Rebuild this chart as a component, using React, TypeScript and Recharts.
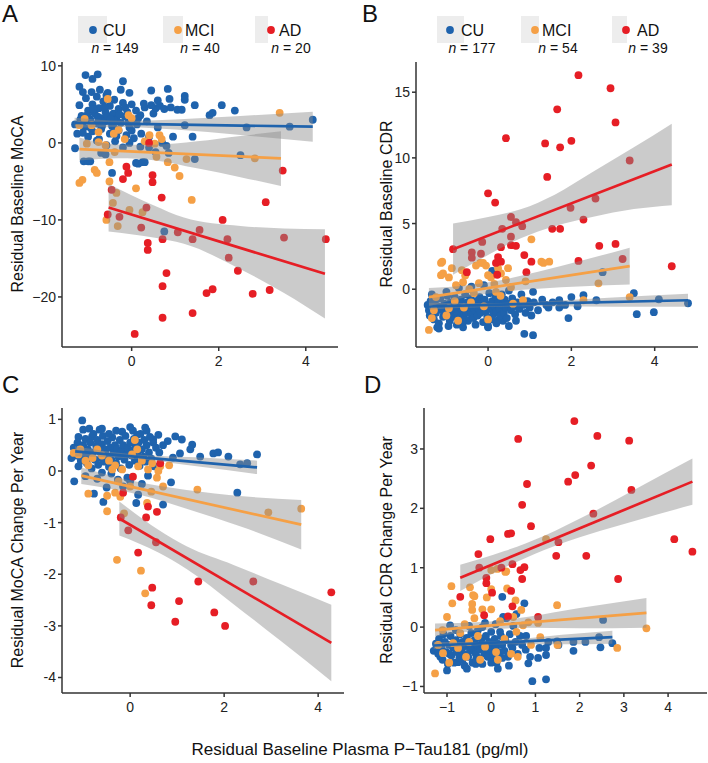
import React from "react";
import { ComposedChart, Scatter, Area, Line, XAxis, YAxis } from "recharts";

/* ─── colours ─── */
const BLUE = "#1f63ad";
const ORANGE = "#f5a046";
const RED = "#e61e25";
const FONT = "'Liberation Sans', Arial, Helvetica, sans-serif";

/* ─── Panel A: baseline MoCA ─── */
const aCU = [
  [-1.06, 8.8], [-0.78, 8.9], [-0.9, 8.3], [-1.2, 7.3], [-0.2, 8.0], [-0.73, 6.9], [-1.12, 6.6], [-0.92, 6.6],
  [-0.58, 6.2], [-0.05, 6.5], [0.45, 6.8], [0.83, 7.0], [1.22, 6.1], [1.22, 5.6], [0.87, 5.7], [1.45, 4.9],
  [2.07, 4.9], [2.37, 4.2], [1.79, 3.6], [1.86, 3.9], [1.22, 2.3], [0.95, 0.8], [1.4, 0.8], [0.7, 0],
  [2.64, 2.0], [3.63, 2.1], [4.16, 3.0], [-1.3, 2.4], [-1.25, 1.2], [-1.2, 4.9], [-1.15, 3.5], [-1.1, 2.0],
  [-1.05, 5.8], [-1.0, 4.2], [-1.0, 0.8], [-0.95, 3.0], [-0.9, 5.0], [-0.9, 1.5], [-0.85, 3.8], [-0.8, 2.5],
  [-0.8, 6.0], [-0.75, 4.5], [-0.75, 0.5], [-0.7, 3.2], [-0.7, 1.8], [-0.65, 5.4], [-0.62, 2.8], [-0.6, 4.0],
  [-0.58, -0.3], [-0.55, 3.5], [-0.5, 1.2], [-0.5, 4.8], [-0.45, 2.2], [-0.42, 3.8], [-0.4, 5.6], [-0.38, 0.2],
  [-0.35, 3.0], [-0.3, 1.6], [-0.3, 4.4], [-0.25, 2.6], [-0.2, 5.2], [-0.2, -0.6], [-0.15, 3.4], [-0.12, 1.0],
  [-0.1, 4.0], [-0.05, 2.0], [0.0, 5.0], [0.0, 3.0], [0.05, 0.6], [0.1, 4.2], [0.12, 2.4], [0.2, 3.6],
  [0.22, 1.2], [0.3, 4.6], [0.35, 2.8], [0.4, 0.8], [0.5, 3.8], [0.55, 4.5], [0.6, 2.0], [0.65, 4.8],
  [0.75, 4.4], [0.8, -0.4], [0.9, 4.6], [1.05, 4.3], [1.15, 4.3], [-1.3, -0.7], [-1.1, -2.4], [-1.0, -2.4],
  [-0.95, -2.4], [-0.7, -1.3], [-0.6, -1.5], [-0.45, -3.9], [0.1, -2.6], [0.15, -2.7], [0.25, -2.5], [0.3, -2.5],
  [0.2, -0.5], [0.55, -1.2], [0.85, -1.3], [1.45, -2.1], [2.5, -1.6], [0.75, -11.5], [-0.35, 0.9], [-0.8, 0.3],
  [-1.18, 3.0], [-0.55, 6.5], [-0.25, 6.9], [0.45, 4.9], [0.6, 5.5], [-0.05, 0.0], [0.4, -0.6], [-1.02, 3.6],
  [-0.88, 4.4], [-0.68, 2.2], [-0.48, 3.1], [-0.28, 3.7], [-0.08, 2.6], [0.15, 3.2], [-0.62, 4.6], [-0.4, 1.9],
  [-0.15, 4.6], [-0.95, 2.0], [-1.12, 1.3], [0.0, 1.6], [0.28, 5.1], [-0.78, 3.4],
];
const aMCI = [
  [-0.55, 5.7], [3.4, 3.9], [-1.08, 3.1], [-1.2, 2.3], [-0.92, 2.3], [-0.76, 1.4], [-0.41, 1.2], [-0.3, 1.7],
  [-0.16, 0.5], [-0.07, 3.6], [0.0, 3.2], [0.41, 1.0], [0.64, 1.0], [0.69, 0.5], [0.3, 0.2], [0.53, -0.1],
  [0.57, -1.8], [0.83, -2.5], [0.99, -3.2], [1.1, -4.3], [1.26, -2.1], [-0.85, -3.5], [-0.51, -2.5], [-0.39, -1.2],
  [-0.76, 0.1], [-1.03, -0.1], [-0.6, -0.3], [-1.2, -5.2], [-1.13, -4.8], [-0.8, -3.9], [-0.51, -5.0], [0.1, -5.9],
  [-0.43, -7.8], [-0.35, -6.5], [-0.05, -8.7], [0.25, -9.0], [-0.58, -10.0], [-0.32, -10.8], [1.38, -7.4], [2.83, -2.0],
];
const aAD = [
  [0.4, 0.0], [-0.12, -3.1], [-0.08, -3.9], [-0.2, -4.7], [0.48, -4.2], [0.48, -5.1], [0.69, -7.1], [-0.46, -6.1],
  [-0.55, -9.3], [-0.28, -9.6], [0.22, -11.0], [0.34, -8.4], [0.37, -13.0], [0.37, -13.9], [0.71, -12.5], [0.8, -16.9],
  [0.71, -18.6], [0.71, -22.7], [0.07, -24.8], [1.4, -22.1], [1.06, -11.6], [1.4, -12.5], [1.56, -11.3], [1.72, -19.5],
  [1.86, -19.0], [2.09, -10.0], [2.2, -12.5], [2.23, -14.9], [2.44, -16.6], [2.78, -19.6], [3.08, -7.7], [3.17, -19.1],
  [3.47, -3.6], [3.5, -12.3], [4.46, -12.5],
];
const aCUBand = [[-1.31, 1.95, 3.25], [-0.2, 2.07, 2.87], [1.0, 1.73, 3.05], [2.5, 1.01, 3.49], [4.16, 0.15, 4.05]];
const aMCIBand = [[-1.2, -2.3, 0.7], [-0.3, -2.0, -0.2], [0.5, -2.24, -0.24], [1.5, -3.3, 0.2], [2.5, -4.45, 0.9], [3.43, -5.6, 1.5]];
const aADBand = [[-0.53, -11.5, -5.3], [0.5, -12.3, -8.1], [1.2, -13.1, -9.7], [2.5, -16.4, -10.8], [3.5, -19.5, -11.1], [4.44, -22.8, -11.2]];
const aCULine = [[-1.31, 2.6], [4.16, 2.1]];
const aMCILine = [[-1.2, -0.8], [3.43, -2.0]];
const aADLine = [[-0.53, -8.4], [4.44, -17.0]];

/* ─── Panel B: baseline CDR ─── */
const bCU = [
  [0.1, 1.4], [0.12, 1.3], [1.08, -0.2], [1.93, -2.2], [0.87, -3.4], [1.08, -3.5], [2.29, -0.46], [2.6, -0.84],
  [1.71, -0.84], [1.71, -1.4], [1.45, -1.4], [-1.18, -3.0], [-0.6, -2.9], [0.0, -2.9], [0.36, -2.4], [0.67, -2.4],
  [1.04, -2.0], [2.75, 1.3], [3.57, -1.9], [3.98, -1.75], [4.1, -0.77], [4.8, -1.07], [3.5, -0.3], [0.0, -2.8],
  [-1.45, -1.2], [-1.42, -1.6], [-1.4, -2.0], [-1.38, -0.9], [-1.35, -1.4], [-1.3, -2.3], [-1.28, -1.0], [-1.25, -1.8],
  [-1.2, -1.3], [-1.18, -2.6], [-1.15, -0.7], [-1.1, -1.6], [-1.08, -2.1], [-1.05, -1.1], [-1.0, -1.9], [-0.98, -0.5],
  [-0.95, -1.4], [-0.92, -2.4], [-0.9, -1.0], [-0.88, -1.7], [-0.85, -2.1], [-0.82, -1.2], [-0.8, -0.6], [-0.78, -1.5],
  [-0.75, -2.7], [-0.72, -1.9], [-0.7, -1.1], [-0.68, -2.2], [-0.65, -0.8], [-0.62, -1.6], [-0.6, -1.3], [-0.58, -2.0],
  [-0.55, -0.4], [-0.52, -1.8], [-0.5, -1.0], [-0.48, -2.4], [-0.45, -1.4], [-0.42, -0.7], [-0.4, -1.9], [-0.38, -1.2],
  [-0.35, -2.2], [-0.32, -1.6], [-0.3, -0.9], [-0.28, -1.3], [-0.25, -2.0], [-0.22, -1.5], [-0.2, -0.6], [-0.18, -1.8],
  [-0.15, -1.1], [-0.12, -2.5], [-0.1, -1.4], [-0.08, -0.8], [-0.05, -1.7], [-0.02, -2.1], [0.0, -1.2], [0.03, -0.3],
  [0.05, -1.5], [0.08, -2.3], [0.1, -0.9], [0.13, -1.9], [0.15, -1.3], [0.18, -0.6], [0.2, -1.7], [0.23, -2.4],
  [0.25, -1.0], [0.28, -1.5], [0.3, -2.0], [0.33, -0.4], [0.35, -1.2], [0.38, -1.8], [0.4, -0.8], [0.43, -1.4],
  [0.45, -2.2], [0.48, -1.1], [0.5, -0.1], [0.55, -1.6], [0.58, -0.7], [0.62, -1.3], [0.65, -1.9], [0.7, -1.0],
  [0.75, -1.5], [0.8, -0.4], [0.85, -1.2], [0.9, -1.8], [0.95, -0.9], [1.0, -1.4], [1.1, -1.0], [1.2, -1.6],
  [1.3, -0.8], [1.4, -1.2], [1.55, -1.0], [1.85, -1.2], [2.0, -0.6], [2.15, -1.3], [-1.35, -0.4], [-1.22, -2.9],
  [-0.95, -2.8], [-0.6, -2.5], [-0.3, -2.7], [0.2, -2.6], [0.5, -2.8], [-1.0, -0.2], [-0.7, 0.1], [-0.4, 0.2],
  [-0.1, 0.3],
];
const bMCI = [
  [1.04, 3.8], [-1.1, 2.1], [-1.42, -3.1], [-1.08, 1.2], [-0.87, 1.6], [-0.63, 1.45], [-0.55, 1.05], [-0.19, 2.0],
  [0.48, 1.6], [1.28, 2.1], [1.47, 2.1], [2.65, 0.45], [3.4, -0.6], [-1.13, 2.0], [-1.13, 1.07], [-0.94, 0.9],
  [-0.77, 0.3], [-0.6, 0.53], [-0.53, 1.2], [-0.29, 1.8], [-0.12, 2.0], [-0.05, 1.8], [-0.22, 0.46], [0.0, 1.07],
  [0.07, 0.9], [0.24, 1.6], [0.31, 1.2], [0.43, 0.7], [0.55, 0.15], [0.84, -0.84], [-1.25, -0.6], [-1.3, -1.6],
  [-0.72, -2.4], [-0.94, -1.45], [-0.58, -1.4], [-0.41, -1.0], [-0.34, -0.3], [0.19, -0.2], [1.33, 2.0], [2.29, -0.84],
  [-0.1, -1.3], [0.3, -0.5], [-1.0, -2.0], [0.6, -1.1], [-0.45, 0.0], [0.9, 0.6], [-0.8, -0.9], [0.0, -2.3],
  [-1.35, -2.2], [0.15, 0.4],
];
const bAD = [
  [2.17, 16.3], [2.94, 15.3], [1.66, 13.7], [3.06, 12.7], [0.43, 11.5], [1.37, 11.1], [1.73, 10.8], [2.0, 11.3],
  [3.4, 9.8], [1.42, 8.55], [0.0, 7.3], [0.17, 6.6], [2.58, 6.9], [1.98, 6.2], [2.29, 5.3], [0.55, 5.5],
  [0.67, 5.1], [0.82, 4.8], [0.34, 4.6], [0.55, 4.0], [1.54, 4.6], [1.73, 4.6], [0.55, 3.35], [0.67, 3.3],
  [0.31, 3.2], [-0.14, 3.6], [-0.39, 2.8], [-0.39, 2.4], [-0.17, 2.7], [-0.84, 3.05], [0.24, 2.45], [0.31, 2.1],
  [0.19, 2.0], [0.87, 2.6], [1.04, 2.1], [0.92, 1.3], [0.22, 1.1], [-0.51, 1.3], [2.17, 2.15], [2.67, 3.3],
  [3.06, 3.45], [3.23, 2.3], [4.41, 1.75],
];
const bCUBand = [[-1.42, -1.55, -1.05], [0.0, -1.35, -1.05], [1.5, -1.29, -0.89], [3.0, -1.33, -0.63], [4.8, -1.34, -0.34]];
const bMCIBand = [[-1.42, -1.3, 0.1], [-0.5, -0.6, 0.3], [0.3, -0.21, 0.69], [1.2, 0.03, 1.33], [2.3, 0.22, 2.22], [3.4, 0.36, 3.16]];
const bADBand = [[-0.84, 1.1, 5.0], [0.0, 2.6, 5.5], [0.8, 3.9, 6.1], [1.6, 4.8, 7.2], [2.5, 5.5, 8.9], [3.5, 6.1, 10.8], [4.41, 6.4, 12.6]];
const bCULine = [[-1.42, -1.3], [4.8, -0.84]];
const bMCILine = [[-1.42, -0.6], [3.4, 1.76]];
const bADLine = [[-0.84, 3.05], [4.41, 9.5]];

/* ─── Panel C: MoCA change per year ─── */
const cCU = [
  [-1.02, 0.98], [-1.0, 0.8], [-0.87, 0.82], [-0.6, 0.82], [-0.17, 0.76], [0.06, 0.78], [0.32, 0.84], [0.15, 0.7],
  [-0.81, 0.67], [-1.1, 0.66], [0.49, 0.61], [0.49, 0.55], [0.96, 0.67], [1.1, 0.61], [1.32, 0.51], [1.28, 0.42],
  [0.62, 0.36], [0.91, 0.26], [1.06, 0.34], [1.49, 0.28], [1.77, 0.34], [1.87, 0.36], [2.09, 0.28], [2.7, 0.32],
  [2.34, 0.13], [2.49, 0.15], [2.28, -0.42], [-1.19, -0.2], [-1.1, 0.09], [-0.77, -0.44], [-0.57, -0.6], [0.13, -0.62],
  [0.17, -0.46], [0.7, -0.65], [0.87, -0.22], [0.38, -0.09], [0.51, 0.09], [-0.06, -0.13], [0.0, -0.2], [-0.26, -0.17],
  [-0.6, -0.03], [-1.2, 0.45], [-1.15, 0.3], [-1.12, 0.55], [-1.08, 0.38], [-1.05, 0.2], [-1.0, 0.5], [-0.98, 0.32],
  [-0.95, 0.62], [-0.92, 0.15], [-0.9, 0.42], [-0.88, 0.28], [-0.85, 0.55], [-0.82, 0.05], [-0.8, 0.36], [-0.78, 0.72],
  [-0.75, 0.22], [-0.72, 0.48], [-0.7, 0.6], [-0.68, 0.12], [-0.65, 0.38], [-0.62, 0.25], [-0.6, 0.52], [-0.58, 0.68],
  [-0.55, 0.18], [-0.52, 0.42], [-0.5, 0.3], [-0.48, 0.58], [-0.45, 0.08], [-0.42, 0.45], [-0.4, 0.22], [-0.38, 0.65],
  [-0.35, 0.35], [-0.32, 0.5], [-0.3, 0.15], [-0.28, 0.42], [-0.25, 0.28], [-0.22, 0.6], [-0.2, 0.05], [-0.18, 0.38],
  [-0.15, 0.5], [-0.12, 0.22], [-0.1, 0.68], [-0.08, 0.32], [-0.05, 0.45], [-0.02, 0.12], [0.0, 0.55], [0.03, 0.3],
  [0.05, 0.4], [0.08, 0.62], [0.1, 0.2], [0.12, 0.48], [0.15, 0.35], [0.18, 0.55], [0.2, 0.1], [0.22, 0.72],
  [0.25, 0.42], [0.28, 0.28], [0.3, 0.6], [0.33, 0.18], [0.35, 0.5], [0.4, 0.36], [0.42, 0.66], [0.45, 0.24],
  [0.55, 0.45], [0.6, 0.7], [0.7, 0.5], [0.8, 0.58], [-0.95, -0.1], [-0.7, -0.15], [-0.4, -0.05], [-0.15, -0.3],
  [0.25, -0.25], [-0.5, -0.32], [-1.25, 0.25], [-0.65, 0.8], [-0.3, 0.78], [0.0, 0.85], [0.35, 0.78], [-0.45, 0.72],
];
const cMCI = [
  [-0.89, 0.11], [-0.7, 0.42], [-0.32, 0.11], [-0.17, 0.03], [0.04, 0.32], [0.15, 0.42], [0.17, 0.09], [0.47, 0.15],
  [0.64, 0.09], [0.6, 0.0], [0.57, -0.13], [0.83, 0.11], [-0.38, 0.03], [0.38, 0.03], [-0.89, -0.44], [-0.49, -0.48],
  [-0.32, -0.42], [-0.21, -0.5], [0.36, -0.62], [1.43, -0.36], [-1.06, 0.42], [-1.1, 0.32], [-0.49, -0.78], [-0.28, -1.72],
  [0.23, -1.93], [0.32, -2.37], [2.94, -0.8], [3.64, -0.73], [-0.13, -0.82], [-0.6, 0.3], [0.0, -0.3], [-0.8, 0.25],
  [0.25, 0.2], [-0.45, 0.2], [0.7, -0.3], [-1.2, 0.35], [0.1, 0.6], [-0.25, -0.2], [0.45, -0.4], [-0.95, 0.2],
];
const cAD = [
  [0.64, 0.15], [0.06, -0.11], [-0.15, -0.42], [0.38, -0.69], [0.57, -0.79], [0.34, -0.9], [-0.04, -1.15], [0.17, -1.58],
  [0.55, -1.38], [0.47, -2.26], [0.45, -2.6], [1.04, -2.52], [0.96, -2.92], [1.45, -2.14], [1.79, -2.74], [2.02, -3.0],
  [2.62, -2.14], [4.28, -2.35], [-0.2, -0.9],
];
const cCUBand = [[-1.17, 0.28, 0.48], [-0.3, 0.26, 0.36], [0.5, 0.2, 0.3], [1.5, 0.08, 0.26], [2.7, -0.06, 0.2]];
const cMCIBand = [[-1.04, -0.25, 0.07], [0.2, -0.46, -0.22], [1.2, -0.73, -0.37], [2.4, -1.09, -0.49], [3.64, -1.52, -0.56]];
const cADBand = [[-0.23, -1.25, -0.59], [0.6, -1.58, -1.14], [1.2, -1.9, -1.46], [2.2, -2.58, -1.82], [3.2, -3.29, -2.19], [4.28, -4.07, -2.59]];
const cCULine = [[-1.17, 0.38], [2.7, 0.07]];
const cMCILine = [[-1.04, -0.09], [3.64, -1.04]];
const cADLine = [[-0.23, -0.92], [4.28, -3.33]];

/* ─── Panel D: CDR change per year ─── */
const dCU = [
  [0.25, 0.51], [0.75, 0.4], [0.57, 0.22], [0.34, 0.15], [-0.93, 0.03], [0.79, -0.15], [0.93, -0.91], [1.24, -0.88],
  [1.09, -0.35], [1.24, -0.35], [1.24, -0.47], [1.06, -0.52], [0.88, -0.5], [0.84, -0.61], [1.86, -0.4], [2.13, -0.25],
  [1.86, -0.25], [2.47, -0.34], [2.44, -0.17], [2.74, -0.27], [2.53, 0.12], [1.49, -0.24], [1.29, -0.25], [0.5, 0.02],
  [0.27, 0.17], [-0.14, 0.07], [0.2, -0.08], [1.52, -0.3], [0.45, -0.3], [0.25, -0.52], [0.05, -0.56], [-0.34, -0.54],
  [-0.75, -0.59], [-1.0, -0.73], [-1.15, -0.5], [-1.24, -0.35], [-1.3, -0.4], [-1.25, -0.28], [-1.2, -0.45], [-1.18, -0.2],
  [-1.12, -0.36], [-1.1, -0.55], [-1.05, -0.25], [-1.02, -0.42], [-0.98, -0.62], [-0.95, -0.3], [-0.92, -0.15], [-0.9, -0.48],
  [-0.86, -0.35], [-0.84, -0.6], [-0.8, -0.22], [-0.78, -0.42], [-0.75, -0.3], [-0.72, -0.52], [-0.7, -0.12], [-0.68, -0.38],
  [-0.65, -0.25], [-0.62, -0.45], [-0.6, -0.65], [-0.58, -0.32], [-0.55, -0.18], [-0.52, -0.5], [-0.5, -0.28], [-0.48, -0.4],
  [-0.45, -0.1], [-0.42, -0.6], [-0.4, -0.35], [-0.38, -0.22], [-0.35, -0.45], [-0.32, -0.3], [-0.3, -0.05], [-0.28, -0.52],
  [-0.25, -0.38], [-0.22, -0.2], [-0.2, -0.62], [-0.18, -0.3], [-0.15, -0.45], [-0.12, -0.15], [-0.1, -0.36], [-0.08, -0.5],
  [-0.05, -0.25], [-0.02, -0.4], [0.0, -0.08], [0.02, -0.3], [0.05, -0.45], [0.08, -0.2], [0.1, -0.35], [0.12, -0.6],
  [0.15, -0.28], [0.18, -0.42], [0.22, -0.15], [0.25, -0.3], [0.3, -0.4], [0.32, -0.22], [0.38, -0.5], [0.42, -0.12],
  [0.48, -0.35], [0.55, -0.25], [0.6, -0.45], [0.65, -0.15], [0.7, -0.3], [0.78, -0.38], [-0.65, -0.55], [-0.95, -0.45],
  [-0.35, -0.62], [0.0, -0.6], [-1.08, -0.12], [-0.5, 0.02], [-0.2, 0.0], [0.1, 0.05], [-0.8, -0.05], [0.4, -0.65],
  [0.15, -0.7], [-0.55, -0.7],
];
const dMCI = [
  [-0.9, 0.69], [-0.88, 0.4], [-0.48, 0.67], [-0.38, 0.52], [-0.43, 0.39], [-0.43, 0.29], [-0.38, 0.15], [-1.0, 0.17],
  [0.0, 0.96], [0.14, 0.98], [0.34, 0.94], [0.0, 0.64], [0.36, 0.65], [0.68, 0.29], [0.5, 0.17], [0.84, 0.08],
  [0.57, -0.08], [1.24, 1.48], [1.49, 0.37], [1.11, -0.17], [2.85, -0.35], [3.51, -0.02], [-1.27, -0.78], [-1.09, -0.44],
  [-0.86, -0.27], [-0.57, -0.5], [-0.14, -0.33], [0.11, -0.42], [-0.41, 0.54], [0.72, 0.03], [1.06, 0.07], [0.32, 0.93],
  [-0.7, -0.1], [-0.25, -0.55], [0.3, -0.2], [-1.1, -0.05], [0.6, -0.5], [-0.6, 0.05], [-0.2, 0.3], [0.2, 0.1],
  [-0.95, -0.6], [0.45, -0.45], [-0.3, -0.15], [0.0, 0.3], [-0.75, -0.35], [0.9, -0.3], [-0.5, -0.25], [0.15, -0.55],
  [-1.2, -0.3], [0.55, 0.45], [1.5, -0.3], [-0.1, 0.5],
];
const dAD = [
  [1.88, 3.47], [0.61, 3.17], [2.4, 3.22], [3.12, 3.14], [2.26, 2.72], [1.9, 2.56], [1.74, 2.45], [0.81, 2.41],
  [3.17, 2.31], [0.7, 2.06], [2.31, 1.91], [0.9, 1.7], [-0.02, 1.48], [0.38, 1.57], [0.45, 1.58], [1.47, 1.2],
  [2.15, 1.2], [1.52, 1.43], [-0.29, 1.23], [-0.27, 1.0], [0.23, 1.0], [0.48, 1.06], [0.66, 0.96], [0.75, 1.01],
  [0.7, 0.81], [-0.11, 0.83], [-0.11, 0.74], [0.02, 0.58], [0.45, 0.61], [-0.7, 0.51], [0.48, 0.35], [0.38, 0.18],
  [-0.16, 0.2], [1.06, 0.17], [4.14, 1.48], [4.55, 1.27], [2.87, 0.81],
];
const dCUBand = [[-1.3, -0.37, -0.25], [-0.4, -0.31, -0.25], [0.5, -0.29, -0.21], [1.6, -0.29, -0.13], [2.74, -0.28, -0.06]];
const dMCIBand = [[-1.27, -0.16, 0.06], [-0.2, -0.055, 0.085], [0.8, -0.01, 0.17], [2.0, -0.02, 0.32], [3.51, -0.01, 0.49]];
const dADBand = [[-0.7, 0.61, 1.05], [0.3, 1.0, 1.28], [1.2, 1.3, 1.54], [2.2, 1.56, 1.9], [3.3, 1.8, 2.34], [4.55, 2.06, 2.84]];
const dCULine = [[-1.3, -0.31], [2.74, -0.17]];
const dMCILine = [[-1.27, -0.05], [3.51, 0.24]];
const dADLine = [[-0.7, 0.83], [4.55, 2.45]];

/* ─── group counts ─── */
const nA = [149, 40, 20];
const nB = [177, 54, 39];
const GROUPS = ["CU", "MCI", "AD"];
const COLORS = [BLUE, ORANGE, RED];

const toPts = (a: number[][]) => a.map(([x, y]) => ({ x, y }));
const toBand = (a: number[][]) => a.map(([x, lo, hi]) => ({ x, r: [lo, hi] }));

const minus = (v: number) => (v < 0 ? "\u2212" + Math.abs(v) : String(v));
const hyphen = (v: number) => (v < 0 ? "-" + Math.abs(v) : String(v));

interface Group {
  pts: number[][];
  band: number[][];
  line: number[][];
}

interface PanelSpec {
  left: number;
  top: number;
  width: number;
  height: number;
  margin: { top: number; right: number; bottom: number; left: number };
  xDomain: [number, number];
  yDomain: [number, number];
  xTicks: number[];
  topTicks: number[];
  yTicks: number[];
  rightTicks: number[];
  fmt: (v: number) => string;
  groups: Group[];
}

const AXIS = { stroke: "#333", strokeWidth: 1.5 };
const TICK_TEXT = { fill: "#222", fontSize: 14 };

function Dot(color: string) {
  return (p: any) => <circle cx={p.cx} cy={p.cy} r={3.9} fill={color} />;
}

function Panel({ s }: { s: PanelSpec }) {
  return (
    <div style={{ position: "absolute", left: s.left, top: s.top }}>
      <ComposedChart width={s.width} height={s.height} margin={s.margin}>
        <XAxis
          type="number"
          dataKey="x"
          domain={s.xDomain}
          allowDataOverflow
          ticks={s.xTicks}
          tickFormatter={minus}
          height={30}
          tickSize={4}
          tickMargin={5}
          axisLine={AXIS}
          tickLine={AXIS}
          tick={TICK_TEXT}
        />
        <XAxis
          xAxisId="top"
          orientation="top"
          type="number"
          domain={s.xDomain}
          allowDataOverflow
          ticks={s.topTicks}
          height={0}
          mirror
          tick={false}
          tickSize={3}
          axisLine={AXIS}
          tickLine={{ stroke: "#888", strokeWidth: 1 }}
        />
        <YAxis
          type="number"
          dataKey="y"
          domain={s.yDomain}
          allowDataOverflow
          ticks={s.yTicks}
          tickFormatter={s.fmt}
          width={40}
          tickSize={4}
          axisLine={AXIS}
          tickLine={AXIS}
          tick={TICK_TEXT}
        />
        <YAxis
          yAxisId="right"
          orientation="right"
          type="number"
          domain={s.yDomain}
          allowDataOverflow
          ticks={s.rightTicks}
          width={0}
          mirror
          tick={false}
          tickSize={3}
          axisLine={AXIS}
          tickLine={{ stroke: "#888", strokeWidth: 1 }}
        />
        {s.groups.map((g, i) => (
          <Scatter
            key={"s" + i}
            data={toPts(g.pts)}
            shape={Dot(COLORS[i])}
            isAnimationActive={false}
            zIndex={50}
          />
        ))}
        {s.groups.flatMap((g, i) => [
          <Area
            key={"a" + i}
            data={toBand(g.band)}
            dataKey="r"
            type="monotone"
            stroke="none"
            fill="#8c8c8c"
            fillOpacity={0.45}
            dot={false}
            activeDot={false}
            isAnimationActive={false}
            zIndex={110 + i * 20}
          />,
          <Line
            key={"l" + i}
            data={toPts(g.line)}
            dataKey="y"
            type="linear"
            stroke={COLORS[i]}
            strokeWidth={2.7}
            dot={false}
            activeDot={false}
            isAnimationActive={false}
            zIndex={120 + i * 20}
          />,
        ])}
      </ComposedChart>
    </div>
  );
}

const panels: PanelSpec[] = [
  {
    left: 0, top: 0, width: 354, height: 380,
    margin: { top: 62, right: 16, bottom: 3, left: 22 },
    xDomain: [-1.6, 4.74], yDomain: [-26.5, 10.5],
    xTicks: [0, 2, 4], topTicks: [-1, 0, 1, 2, 3, 4],
    yTicks: [-20, -10, 0, 10], rightTicks: [-25, -20, -15, -10, -5, 0, 5, 10],
    fmt: minus,
    groups: [
      { pts: aCU, band: aCUBand, line: aCULine },
      { pts: aMCI, band: aMCIBand, line: aMCILine },
      { pts: aAD, band: aADBand, line: aADLine },
    ],
  },
  {
    left: 354, top: 0, width: 354, height: 380,
    margin: { top: 62, right: 10, bottom: 3, left: 22 },
    xDomain: [-1.73, 5.04], yDomain: [-4.4, 17.3],
    xTicks: [0, 2, 4], topTicks: [-1, 0, 1, 2, 3, 4, 5],
    yTicks: [0, 5, 10, 15], rightTicks: [0, 5, 10, 15],
    fmt: minus,
    groups: [
      { pts: bCU, band: bCUBand, line: bCULine },
      { pts: bMCI, band: bMCIBand, line: bMCILine },
      { pts: bAD, band: bADBand, line: bADLine },
    ],
  },
  {
    left: 0, top: 380, width: 354, height: 350,
    margin: { top: 28, right: 10, bottom: 7, left: 22 },
    xDomain: [-1.45, 4.55], yDomain: [-4.3, 1.22],
    xTicks: [0, 2, 4], topTicks: [-1, 0, 1, 2, 3, 4],
    yTicks: [-4, -3, -2, -1, 0, 1], rightTicks: [-4, -3, -2, -1, 0, 1],
    fmt: hyphen,
    groups: [
      { pts: cCU, band: cCUBand, line: cCULine },
      { pts: cMCI, band: cMCIBand, line: cMCILine },
      { pts: cAD, band: cADBand, line: cADLine },
    ],
  },
  {
    left: 354, top: 380, width: 354, height: 350,
    margin: { top: 28, right: 1, bottom: 7, left: 30 },
    xDomain: [-1.52, 4.88], yDomain: [-1.11, 3.69],
    xTicks: [-1, 0, 1, 2, 3, 4], topTicks: [-1.5, -1, -0.5, 0, 0.5, 1, 1.5, 2, 2.5, 3, 3.5, 4, 4.5],
    yTicks: [-1, 0, 1, 2, 3], rightTicks: [-1, 0, 1, 2, 3],
    fmt: minus,
    groups: [
      { pts: dCU, band: dCUBand, line: dCULine },
      { pts: dMCI, band: dMCIBand, line: dMCILine },
      { pts: dAD, band: dADBand, line: dADLine },
    ],
  },
];

/* legend layout (page px): grey key box x/width, dot x, label x, n-label centre */
const legendA = { box: [[78, 29], [163, 20], [255, 13]], dot: [93, 178, 271], label: [103, 185, 279], n: [115, 200, 291] };
const legendB = { box: [[437, 27], [521, 18], [612, 15]], dot: [450, 535, 626], label: [461, 542, 637], n: [472, 558, 648] };

function Legend({ l, counts }: { l: typeof legendA; counts: number[] }) {
  return (
    <g>
      {GROUPS.map((g, i) => (
        <g key={g}>
          <rect x={l.box[i][0]} y={16} width={l.box[i][1]} height={27} fill="#ededed" />
          <circle cx={l.dot[i]} cy={30} r={3.9} fill={COLORS[i]} />
          <text x={l.label[i]} y={35.5} fontSize={16} fill="#111">{g}</text>
          <text x={l.n[i]} y={53} fontSize={14} fill="#111" textAnchor="middle">
            <tspan fontStyle="italic">n</tspan> = {counts[i]}
          </text>
        </g>
      ))}
    </g>
  );
}

export default function App() {
  return (
    <div style={{ position: "absolute", left: 0, top: 0, width: 708, height: 763, background: "#fff", fontFamily: FONT }}>
      {panels.map((p, i) => (
        <Panel key={i} s={p} />
      ))}
      <svg width={708} height={763} style={{ position: "absolute", left: 0, top: 0, pointerEvents: "none" }} fontFamily={FONT}>
        <text x={2} y={22} fontSize={24} fill="#111">A</text>
        <text x={362} y={22} fontSize={24} fill="#111">B</text>
        <text x={2} y={393} fontSize={24} fill="#111">C</text>
        <text x={364} y={393} fontSize={24} fill="#111">D</text>
        <Legend l={legendA} counts={nA} />
        <Legend l={legendB} counts={nB} />
        <text transform="translate(17,204) rotate(-90)" textAnchor="middle" dominantBaseline="central" fontSize={16} fill="#111">
          Residual Baseline MoCA
        </text>
        <text transform="translate(386,204) rotate(-90)" textAnchor="middle" dominantBaseline="central" fontSize={16} fill="#111">
          Residual Baseline CDR
        </text>
        <text transform="translate(17,550) rotate(-90)" textAnchor="middle" dominantBaseline="central" fontSize={16} fill="#111">
          Residual MoCA Change Per Year
        </text>
        <text transform="translate(386,550) rotate(-90)" textAnchor="middle" dominantBaseline="central" fontSize={16} fill="#111">
          Residual CDR Change Per Year
        </text>
        <text x={360} y={755} textAnchor="middle" fontSize={17} fill="#111">
          Residual Baseline Plasma P{"\u2212"}Tau181 (pg/ml)
        </text>
      </svg>
    </div>
  );
}
